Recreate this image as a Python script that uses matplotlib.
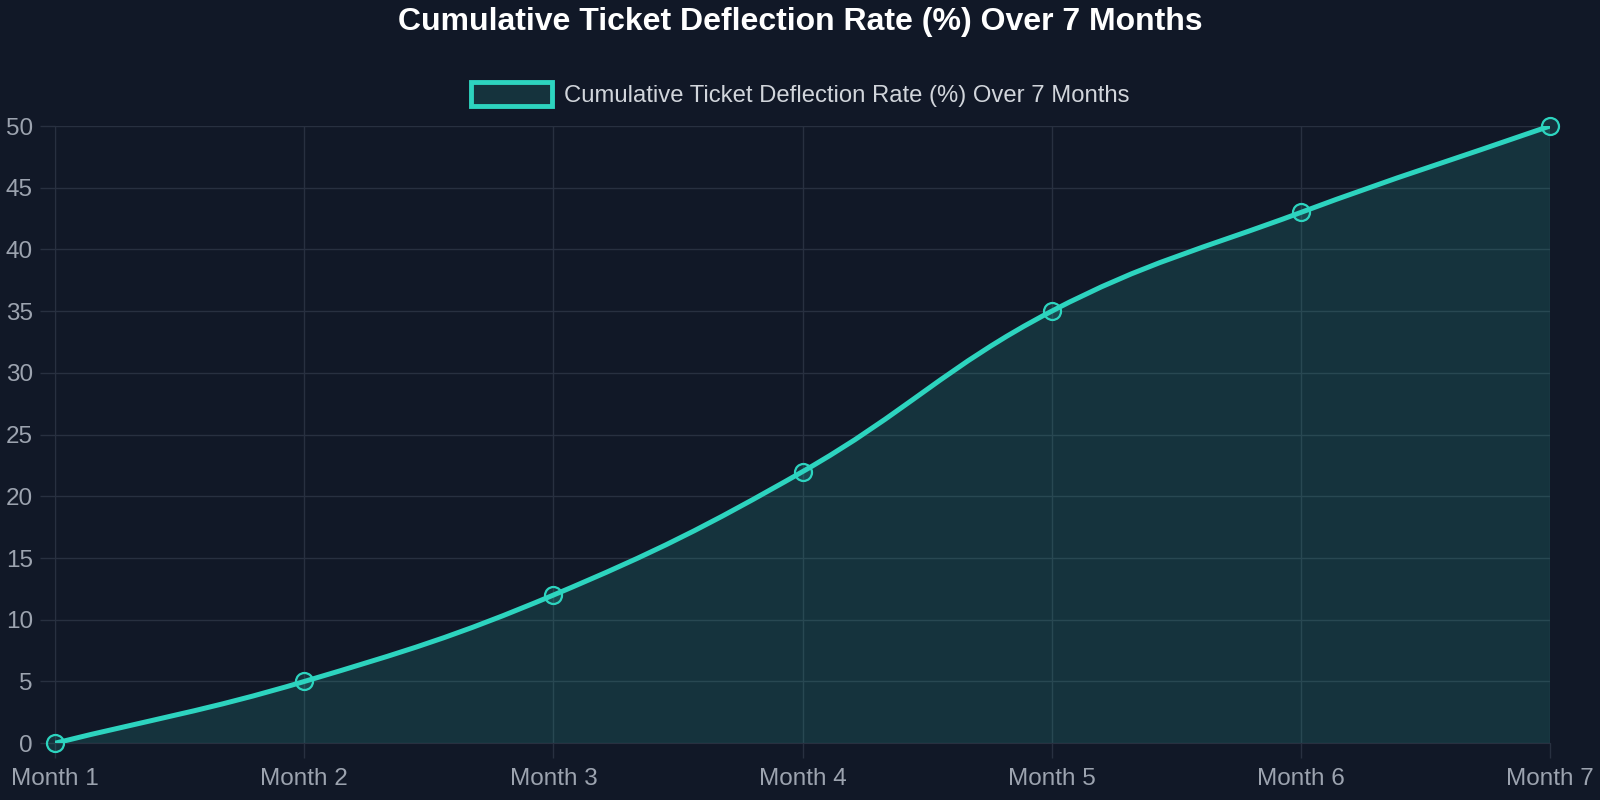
import matplotlib
matplotlib.use("Agg")
import matplotlib.pyplot as plt
import numpy as np
from matplotlib.path import Path
from matplotlib.patches import PathPatch, Patch

plt.rcParams["font.family"] = ["Liberation Sans", "DejaVu Sans"]

months = ["Month 1", "Month 2", "Month 3", "Month 4", "Month 5", "Month 6", "Month 7"]
deflection = [0, 5, 12, 22, 35, 43, 50]
series_label = "Cumulative Ticket Deflection Rate (%) Over 7 Months"

BG = "#111827"
TEAL = "#2dd4bf"
GRID = "#283040"
TICK = "#9ca3af"

fig = plt.figure(figsize=(16, 8), dpi=100, facecolor=BG)
ax = fig.add_axes([0.0344, 0.071, 0.9344, 0.7715], facecolor=BG)

x = np.arange(len(months))
y = np.array(deflection, dtype=float)
ax.set_xlim(0, len(months) - 1)
ax.set_ylim(0, 50)


def spline_path(xs, ys, tension=0.4):
    # chart.js style bezier control points, computed in pixel space
    pts = ax.transData.transform(np.column_stack([xs, ys]))
    n = len(pts)
    cps = []
    for i in range(n):
        prev = pts[i - 1] if i > 0 else pts[i]
        cur = pts[i]
        nxt = pts[i + 1] if i < n - 1 else pts[i]
        d01 = np.hypot(*(cur - prev))
        d12 = np.hypot(*(nxt - cur))
        tot = d01 + d12
        s01 = d01 / tot if tot else 0
        s12 = d12 / tot if tot else 0
        cp_prev = cur - tension * s01 * (nxt - prev)
        cp_next = cur + tension * s12 * (nxt - prev)
        cps.append((cp_prev, cp_next))
    inv = ax.transData.inverted()
    verts = [pts[0]]
    codes = [Path.MOVETO]
    for i in range(n - 1):
        verts += [cps[i][1], cps[i + 1][0], pts[i + 1]]
        codes += [Path.CURVE4] * 3
    return inv.transform(np.array(verts)), codes


verts, codes = spline_path(x, y)

# filled area under the curve
fill_verts = np.vstack([verts, [[x[-1], 0], [x[0], 0], verts[0]]])
fill_codes = codes + [Path.LINETO, Path.LINETO, Path.CLOSEPOLY]
ax.add_patch(PathPatch(Path(fill_verts, fill_codes), facecolor=TEAL, alpha=0.15,
                       edgecolor="none", zorder=2))
ax.add_patch(PathPatch(Path(verts, codes), facecolor="none", edgecolor=TEAL,
                       linewidth=3.6, capstyle="round", zorder=3))
ax.scatter(x, y, s=150, facecolor=(45 / 255, 212 / 255, 191 / 255, 0.15),
           edgecolor=TEAL, linewidth=1.6, zorder=4, clip_on=False)

ax.set_xticks(x)
ax.set_xticklabels(months)
ax.set_yticks(np.arange(0, 51, 5))
ax.grid(True, color=GRID, linewidth=1.0, zorder=1)
ax.set_axisbelow(True)
ax.tick_params(colors=GRID, labelcolor=TICK, labelsize=17.5, length=11, width=1.0)
ax.tick_params(axis="x", pad=7)
ax.tick_params(axis="y", pad=5)
for s in ax.spines.values():
    s.set_visible(False)
ax.spines["left"].set_visible(True)
ax.spines["left"].set_color(GRID)
ax.spines["bottom"].set_visible(True)
ax.spines["bottom"].set_color(GRID)

fig.text(0.5, 0.973, series_label, ha="center", va="center", color="white",
         fontsize=23, fontweight="bold")

handle = Patch(facecolor=(45 / 255, 212 / 255, 191 / 255, 0.15), edgecolor=TEAL, linewidth=3.5)
fig.legend([handle], [series_label], loc="center", bbox_to_anchor=(0.5, 0.882),
           frameon=False, fontsize=17.2, labelcolor="#d1d5db", handlelength=3.4,
           handleheight=1.2, handletextpad=0.5)

fig.savefig("out.png", dpi=100, facecolor=BG)
